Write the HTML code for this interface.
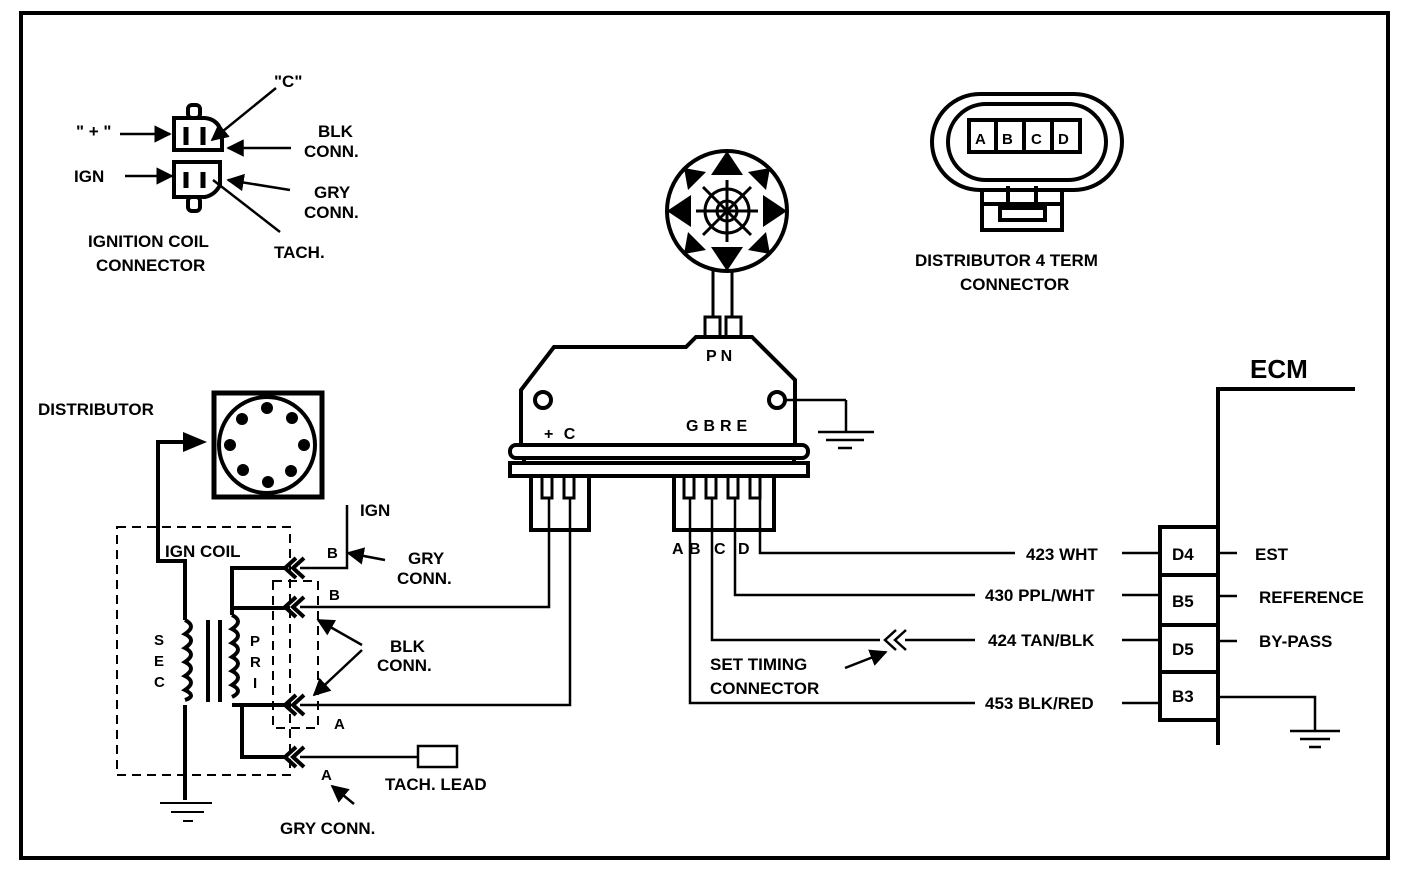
<!DOCTYPE html>
<html><head><meta charset="utf-8"><style>
html,body{margin:0;padding:0;background:#fff;}
svg{display:block;}
text{font-family:"Liberation Sans",sans-serif;font-weight:bold;fill:#000;}
</style></head><body>
<svg width="1408" height="870" viewBox="0 0 1408 870" xmlns="http://www.w3.org/2000/svg">
<defs>
<marker id="ah" viewBox="0 0 10 10" refX="9" refY="5" markerWidth="7" markerHeight="7" orient="auto-start-reverse"><path d="M0,0 L10,5 L0,10 z" fill="#000"/></marker>
</defs>
<g fill="none" stroke="#000">
<rect x="21" y="13" width="1367" height="845" stroke-width="4"/>

<g stroke-width="4">
<path d="M174,118 H205 Q222,120 222,140 V150 H174 Z"/>
<rect x="188" y="105" width="12" height="13" rx="4"/>
<path d="M174,162 H220 V185 Q215,195 205,197 H174 Z"/>
<rect x="188" y="197" width="12" height="14" rx="4"/>
</g>
<g stroke-width="5">
<line x1="186" y1="127" x2="186" y2="145"/><line x1="203" y1="127" x2="203" y2="145"/>
<line x1="186" y1="172" x2="186" y2="188"/><line x1="203" y1="172" x2="203" y2="188"/>
</g>
<g stroke-width="2.5">
<line x1="120" y1="134" x2="170" y2="134" marker-end="url(#ah)"/>
<line x1="125" y1="176" x2="172" y2="176" marker-end="url(#ah)"/>
<line x1="276" y1="88" x2="212" y2="140" marker-end="url(#ah)"/>
<line x1="291" y1="148" x2="228" y2="148" marker-end="url(#ah)"/>
<line x1="290" y1="190" x2="228" y2="180" marker-end="url(#ah)"/>
<line x1="280" y1="232" x2="213" y2="180"/>
</g>

<g stroke-width="4">
<rect x="932" y="94" width="190" height="96" rx="48"/>
<rect x="948" y="104" width="158" height="76" rx="38"/>
<rect x="969" y="120" width="111" height="32"/>
<line x1="996" y1="120" x2="996" y2="152"/><line x1="1024" y1="120" x2="1024" y2="152"/><line x1="1052" y1="120" x2="1052" y2="152"/>
<path d="M982,190 V230 H1062 V190"/>
<line x1="982" y1="204" x2="1062" y2="204"/>
<rect x="1000" y="208" width="45" height="12"/>
<line x1="1008" y1="186" x2="1008" y2="202"/><line x1="1036" y1="186" x2="1036" y2="202"/>
</g>

<circle cx="727" cy="211" r="60" stroke-width="4"/>
<g fill="#000" stroke="none">
<path d="M727,151 L711,175 L743,175 Z"/>
<path d="M727,271 L711,247 L743,247 Z"/>
<path d="M667,211 L691,195 L691,227 Z"/>
<path d="M787,211 L763,195 L763,227 Z"/>
<path d="M684,168 L706,172 L688,190 Z"/>
<path d="M770,168 L748,172 L766,190 Z"/>
<path d="M684,254 L706,250 L688,232 Z"/>
<path d="M770,254 L748,250 L766,232 Z"/>
</g>
<g stroke-width="3">
<circle cx="727" cy="211" r="10"/>
<circle cx="727" cy="211" r="22"/>
<line x1="727" y1="180" x2="727" y2="242"/><line x1="696" y1="211" x2="758" y2="211"/>
<line x1="703" y1="187" x2="751" y2="235"/><line x1="751" y1="187" x2="703" y2="235"/>
</g>
<line x1="713" y1="271" x2="713" y2="318" stroke-width="3"/>
<line x1="732" y1="271" x2="732" y2="318" stroke-width="3"/>
<rect x="705" y="317" width="15" height="20" stroke-width="3"/>
<rect x="726" y="317" width="15" height="20" stroke-width="3"/>

<g stroke-width="4">
<path d="M521,445 V390 L554,347 H686 L696,337 H752 L795,380 V445"/>
<rect x="510" y="445" width="298" height="13" rx="6"/>
<rect x="510" y="463" width="298" height="13"/>
<line x1="524" y1="458" x2="524" y2="463"/><line x1="794" y1="458" x2="794" y2="463"/>
<circle cx="543" cy="400" r="8"/>
<circle cx="777" cy="400" r="8"/>
<rect x="531" y="476" width="58" height="54"/>
<rect x="674" y="476" width="100" height="54"/>
</g>
<g stroke-width="3">
<rect x="542" y="476" width="10" height="22"/><rect x="564" y="476" width="10" height="22"/>
<rect x="684" y="476" width="10" height="22"/><rect x="706" y="476" width="10" height="22"/>
<rect x="728" y="476" width="10" height="22"/><rect x="750" y="476" width="10" height="22"/>
</g>
<g stroke-width="2.5">
<line x1="785" y1="400" x2="846" y2="400"/><line x1="846" y1="400" x2="846" y2="432"/>
<line x1="818" y1="432" x2="874" y2="432"/><line x1="826" y1="440" x2="864" y2="440"/><line x1="838" y1="448" x2="852" y2="448"/>
<path d="M549,498 V607 H300"/>
<path d="M570,498 V705 H300"/>
<path d="M760,498 V553 H1015"/>
<path d="M735,498 V595 H975"/>
<path d="M712,498 V640 H880"/>
<path d="M905,640 H975"/>
<path d="M690,498 V703 H975"/>
<path d="M896,630 L885,640 L896,650 M906,630 L895,640 L906,650"/>
<line x1="845" y1="668" x2="886" y2="652" marker-end="url(#ah)"/>
<line x1="1122" y1="553" x2="1160" y2="553"/>
<line x1="1122" y1="595" x2="1160" y2="595"/>
<line x1="1122" y1="640" x2="1160" y2="640"/>
<line x1="1122" y1="703" x2="1160" y2="703"/>
<line x1="1218" y1="553" x2="1237" y2="553"/>
<line x1="1218" y1="596" x2="1237" y2="596"/>
<line x1="1218" y1="641" x2="1237" y2="641"/>
<path d="M1218,697 H1315 V730"/>
<line x1="1290" y1="731" x2="1340" y2="731"/><line x1="1300" y1="739" x2="1330" y2="739"/><line x1="1309" y1="747" x2="1321" y2="747"/>
</g>
<g stroke-width="4">
<path d="M1218,745 V389 H1355"/>
<rect x="1160" y="527" width="58" height="193"/>
<line x1="1160" y1="575" x2="1218" y2="575"/><line x1="1160" y1="625" x2="1218" y2="625"/><line x1="1160" y1="672" x2="1218" y2="672"/>
</g>

<rect x="214" y="393" width="108" height="104" stroke-width="5"/>
<circle cx="267" cy="445" r="48" stroke-width="4"/>
<g fill="#000" stroke="none">
<circle cx="267" cy="408" r="6"/><circle cx="292" cy="418" r="6"/><circle cx="304" cy="445" r="6"/><circle cx="291" cy="471" r="6"/>
<circle cx="268" cy="482" r="6"/><circle cx="243" cy="470" r="6"/><circle cx="230" cy="445" r="6"/><circle cx="242" cy="419" r="6"/>
<path d="M183,432 L207,442 L183,452 Z"/>
</g>
<path d="M185,800 V705 M185,620 V561 H158 V442 H185" stroke-width="4"/>
<path d="M185,620 q12,6 0,14 q12,6 0,14 q12,6 0,14 q12,6 0,14 q12,6 0,14 q12,6 0,10" stroke-width="4"/>
<line x1="160" y1="803" x2="212" y2="803" stroke-width="2"/><line x1="171" y1="812" x2="204" y2="812" stroke-width="2"/><line x1="183" y1="821" x2="193" y2="821" stroke-width="2"/>
<line x1="208" y1="620" x2="208" y2="702" stroke-width="4"/>
<line x1="220" y1="620" x2="220" y2="702" stroke-width="4"/>
<path d="M232,615 q12,6 0,14 q12,6 0,14 q12,6 0,14 q12,6 0,14 q12,6 0,14 q12,6 0,12" stroke-width="4"/>
<path d="M288,568 H232 V615 M232,608 H290 M232,705 H290 M242,705 V757 H288" stroke-width="4"/>
<rect x="117" y="527" width="173" height="248" stroke-width="2" stroke-dasharray="9,6"/>
<rect x="273" y="581" width="45" height="147" stroke-width="2" stroke-dasharray="9,6"/>
<g stroke-width="4">
<path d="M296,558 L285,568 L296,578 M304,558 L293,568 L304,578"/>
<path d="M296,597 L285,607 L296,617 M304,597 L293,607 L304,617"/>
<path d="M296,695 L285,705 L296,715 M304,695 L293,705 L304,715"/>
<path d="M296,747 L285,757 L296,767 M304,747 L293,757 L304,767"/>
</g>
<g stroke-width="2.5">
<path d="M300,568 H347 V505"/>
<line x1="385" y1="560" x2="348" y2="553" marker-end="url(#ah)"/>
<line x1="362" y1="645" x2="318" y2="620" marker-end="url(#ah)"/>
<line x1="362" y1="650" x2="314" y2="695" marker-end="url(#ah)"/>
<line x1="300" y1="757" x2="418" y2="757"/>
<rect x="418" y="746" width="39" height="21"/>
<line x1="354" y1="804" x2="332" y2="786" marker-end="url(#ah)"/>
</g>
</g>

<g font-size="17">
<text x="274" y="87">"C"</text>
<text x="76" y="137">" + "</text>
<text x="318" y="137">BLK</text><text x="304" y="157">CONN.</text>
<text x="74" y="182">IGN</text>
<text x="314" y="198">GRY</text><text x="304" y="218">CONN.</text>
<text x="88" y="247">IGNITION COIL</text>
<text x="96" y="271">CONNECTOR</text>
<text x="274" y="258">TACH.</text>
<text x="915" y="266">DISTRIBUTOR 4 TERM</text>
<text x="960" y="290">CONNECTOR</text>
<text x="975" y="144" font-size="15">A</text><text x="1002" y="144" font-size="15">B</text><text x="1031" y="144" font-size="15">C</text><text x="1058" y="144" font-size="15">D</text>
<text x="706" y="361" font-size="16" letter-spacing="4">PN</text>
<text x="544" y="439" font-size="16" letter-spacing="3">+ C</text>
<text x="686" y="431" font-size="16" letter-spacing="5">GBRE</text>
<text x="38" y="415">DISTRIBUTOR</text>
<text x="165" y="557">IGN COIL</text>
<text x="360" y="516">IGN</text>
<text x="327" y="558" font-size="15">B</text>
<text x="408" y="564">GRY</text><text x="397" y="584">CONN.</text>
<text x="329" y="600" font-size="15">B</text>
<text x="390" y="652">BLK</text><text x="377" y="671">CONN.</text>
<text x="334" y="729" font-size="15">A</text>
<text x="321" y="780" font-size="15">A</text>
<text x="385" y="790">TACH. LEAD</text>
<text x="280" y="834">GRY CONN.</text>
<text x="154" y="645" font-size="15">S</text><text x="154" y="666" font-size="15">E</text><text x="154" y="687" font-size="15">C</text>
<text x="250" y="646" font-size="15">P</text><text x="250" y="667" font-size="15">R</text><text x="253" y="688" font-size="15">I</text>
<text x="672" y="554" font-size="16">A</text><text x="689" y="554" font-size="16">B</text><text x="714" y="554" font-size="16">C</text><text x="738" y="554" font-size="16">D</text>
<text x="710" y="670">SET TIMING</text>
<text x="710" y="694">CONNECTOR</text>
<text x="1026" y="560">423 WHT</text>
<text x="985" y="601">430 PPL/WHT</text>
<text x="988" y="646">424 TAN/BLK</text>
<text x="985" y="709">453 BLK/RED</text>
<text x="1172" y="560">D4</text>
<text x="1172" y="607">B5</text>
<text x="1172" y="655">D5</text>
<text x="1172" y="702">B3</text>
<text x="1255" y="560">EST</text>
<text x="1259" y="603">REFERENCE</text>
<text x="1259" y="647">BY-PASS</text>
<text x="1250" y="378" font-size="26">ECM</text>
</g>
</svg>
</body></html>
